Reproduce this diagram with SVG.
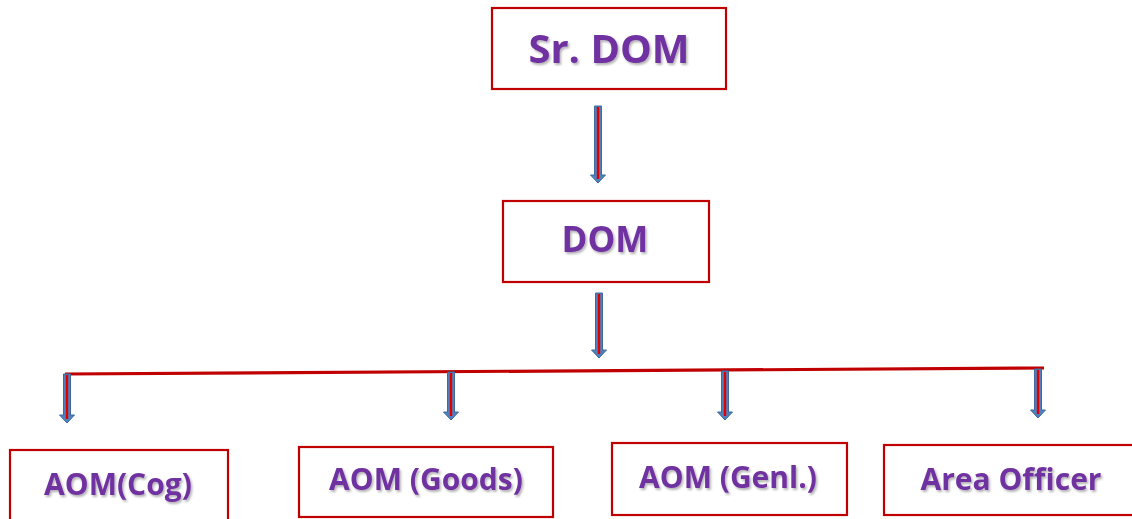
<svg xmlns="http://www.w3.org/2000/svg" width="1132" height="519" viewBox="0 0 1132 519">
<defs>
<filter id="sh" x="-10%" y="-20%" width="130%" height="150%">
<feDropShadow dx="1.5" dy="2" stdDeviation="1" flood-color="#000" flood-opacity="0.3"/>
</filter>
</defs>
<style>
.box{fill:#fff;stroke:#C00000;stroke-width:2.2}
.lbl{font-family:"Open Sans","Noto Sans",sans-serif;font-weight:bold;fill:#7030A0;text-anchor:middle;filter:url(#sh)}
.arr{fill:#4F81BD;stroke:#3C6A9E;stroke-width:1}
.core{stroke:#E00000;stroke-width:2.4;fill:none}
.bar{stroke:#C00000;stroke-width:3.2;fill:none}
</style>
<rect width="1132" height="519" fill="#fff"/>
<g id="connectors">
<path class="bar" d="M65 374 L1044 368"/>
<path class="arr" d="M594.5 106 H601.5 V175 H605.5 L598 183 L590.5 175 H594.5 Z"/>
<path class="core" d="M598 107 V179"/>
<path class="arr" d="M595.5 293 H602.5 V350 H606.5 L599 358 L591.5 350 H595.5 Z"/>
<path class="core" d="M599 294 V354"/>
<path class="arr" d="M63.5 374 H70.5 V415 H74.5 L67 423 L59.5 415 H63.5 Z"/>
<path class="core" d="M67 375 V419"/>
<path class="arr" d="M447.5 372 H454.5 V412 H458.5 L451 420 L443.5 412 H447.5 Z"/>
<path class="core" d="M451 373 V416"/>
<path class="arr" d="M721.5 371 H728.5 V412 H732.5 L725 420 L717.5 412 H721.5 Z"/>
<path class="core" d="M725 372 V416"/>
<path class="arr" d="M1034.5 369 H1041.5 V410 H1045.5 L1038 418 L1030.5 410 H1034.5 Z"/>
<path class="core" d="M1038 370 V414"/>
</g>
<g id="srdom">
<rect class="box" x="492" y="8" width="234" height="81"/>
<text class="lbl" x="609" y="63" font-size="40">Sr. DOM</text>
</g>
<g id="dom">
<rect class="box" x="503" y="201" width="206" height="81"/>
<text class="lbl" x="605" y="252" font-size="35">DOM</text>
</g>
<g id="aomcog">
<rect class="box" x="10" y="450" width="218" height="80"/>
<text class="lbl" x="118" y="495" font-size="30">AOM(Cog)</text>
</g>
<g id="aomgoods">
<rect class="box" x="299" y="447" width="254" height="70"/>
<text class="lbl" x="426" y="490" font-size="30">AOM (Goods)</text>
</g>
<g id="aomgenl">
<rect class="box" x="612" y="443" width="235" height="72"/>
<text class="lbl" x="728" y="488" font-size="30">AOM (Genl.)</text>
</g>
<g id="areaofficer">
<rect class="box" x="884" y="445" width="260" height="70"/>
<text class="lbl" x="1011" y="490" font-size="30">Area Officer</text>
</g>
</svg>
